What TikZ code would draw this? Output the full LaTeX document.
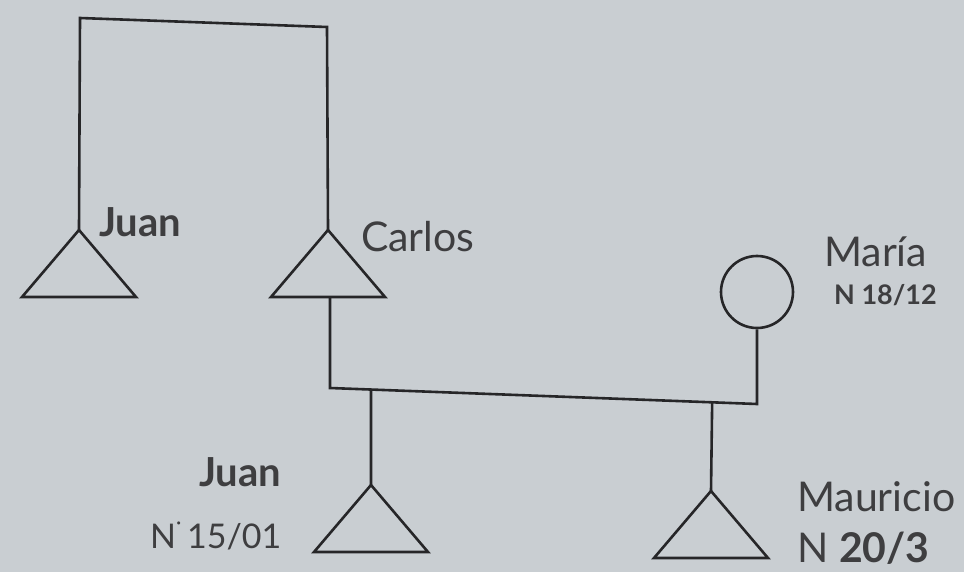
\documentclass[tikz,border=0pt]{standalone}
\usepackage{fontspec}
\setmainfont{Lato}
\usetikzlibrary{calc}
\definecolor{paper}{RGB}{201,206,210}
\definecolor{ink}{RGB}{38,38,40}
\definecolor{txt}{RGB}{62,62,64}
\tikzset{
  wire/.style={draw=ink, line width=2.6pt},
  male/.pic={\draw[wire, line join=miter] (0,0) -- (-57,67) -- (57,67) -- cycle;},
  lbl/.style={text=txt, inner sep=0pt, anchor=west, font=\fontsize{41}{48}\selectfont},
  blbl/.style={lbl, font=\fontsize{40}{46}\selectfont\bfseries},
  dlbl/.style={lbl, font=\fontsize{27}{32}\selectfont\bfseries},
}
\begin{document}
\begin{tikzpicture}[x=1pt, y=-1pt]
\fill[paper] (0,0) rectangle (964,572);
\useasboundingbox (0,0) rectangle (964,572);

% individuals
\coordinate (juan1) at (79,230);
\coordinate (carlos) at (328,230);
\coordinate (juan2) at (371,485);
\coordinate (mauricio) at (711,491);
\node[circle, wire, minimum size=72pt, inner sep=0pt] (maria) at (757,292) {};
\pic at (juan1) {male};
\pic at (carlos) {male};
\pic at (juan2) {male};
\pic at (mauricio) {male};

% sibling bracket
\coordinate (sibL) at (80,18);
\coordinate (sibR) at (327,27);
\draw[wire] (juan1) -- (sibL) -- (sibR) -- (carlos);

% marriage line
\coordinate (carlosBase) at (330,297);
\coordinate (mL) at (330,388);
\coordinate (mR) at (757,404);
\draw[wire, line join=miter] (carlosBase) -- (mL) -- (mR) -- (maria.south);

% children
\coordinate (c1) at ($(mL)!0.096!(mR)$);
\coordinate (c2) at ($(mL)!0.895!(mR)$);
\draw[wire] (c1) -- (juan2);
\draw[wire] (c2) -- (mauricio);

% labels
\node[blbl] (tJuan1) at (99,222) {Juan};
\node[lbl] (tCarlos) at (361,237) {Carlos};
\node[lbl] (tMaria) at (824,252) {María};
\node[dlbl] (tMariaN) at (834,295) {N 18/12};
\node[blbl] (tJuan2) at (199,472) {Juan};
\node[lbl, font=\fontsize{34}{40}\selectfont] (tJuan2N) at (150,536) {N\raisebox{0.55em}{\scalebox{0.6}{·}}\,15/01};
\node[lbl] (tMau) at (797,497) {Mauricio};
\node[lbl] (tMauN) at (797,548) {N \textbf{20/3}};
\end{tikzpicture}
\end{document}
